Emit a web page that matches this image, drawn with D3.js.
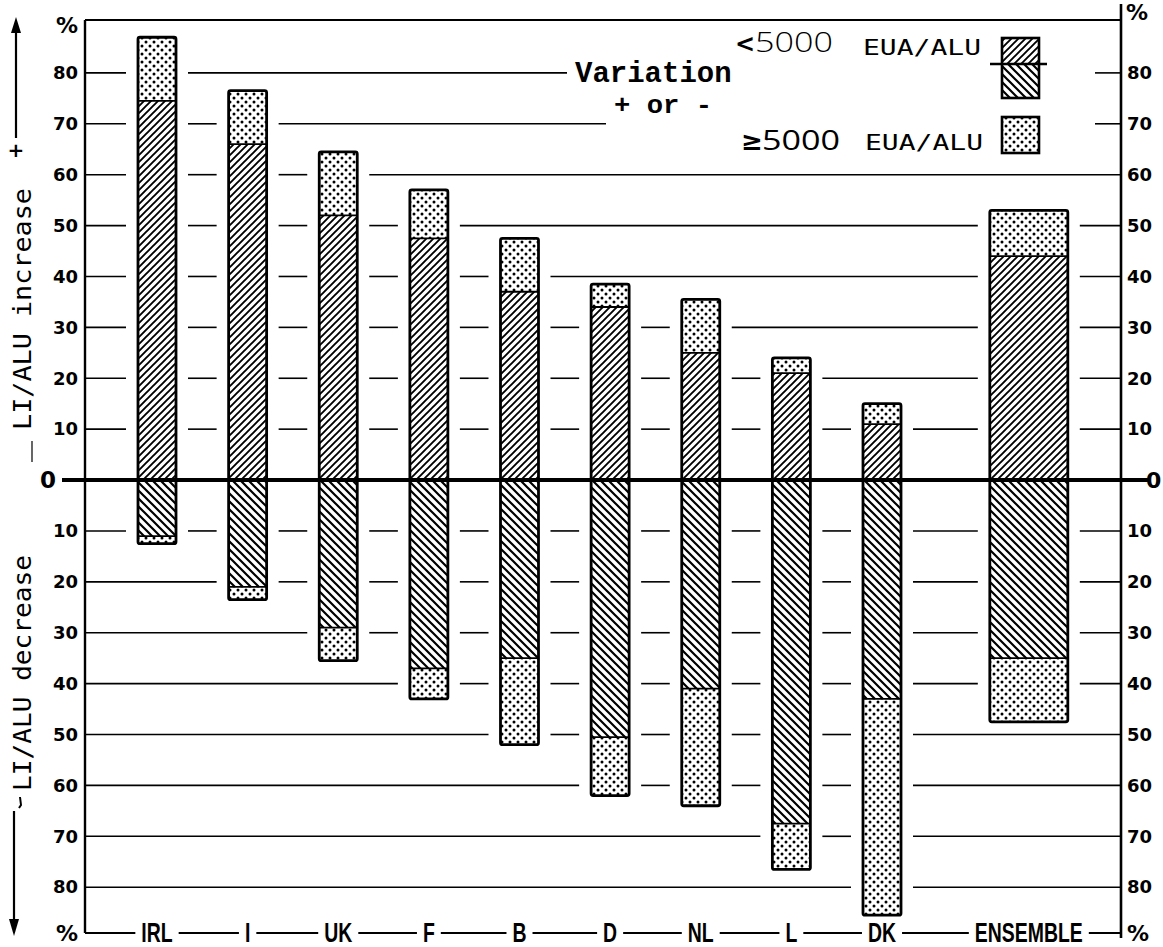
<!DOCTYPE html>
<html><head><meta charset="utf-8">
<script src="https://cdn.jsdelivr.net/npm/d3@7"></script>
<style>body{margin:0;background:#fff}svg{display:block}</style>
</head><body>
<svg id="c" width="1163" height="947"></svg>
<script>
// ---- data (values in %) ----
const categories = ["IRL","I","UK","F","B","D","NL","L","DK","ENSEMBLE"];
const incLow   = [74.5, 66, 52, 47.5, 37, 34, 25, 21, 11, 44];       // increase, < 5000 EUA/ALU (hatched)
const incTotal = [87, 76.5, 64.5, 57, 47.5, 38.5, 35.5, 24, 15, 53];  // increase incl. >= 5000 EUA/ALU (dotted)
const decLow   = [11, 21, 29, 37, 35, 50.5, 41, 67.5, 43, 35];        // decrease, < 5000 EUA/ALU (hatched)
const decTotal = [12.5, 23.5, 35.5, 43, 52, 62, 64, 76.5, 85.5, 47.5]; // decrease incl. >= 5000 EUA/ALU (dotted)
const tickValues = [10, 20, 30, 40, 50, 60, 70, 80];

// ---- layout ----
const frame = {left: 85, right: 1121, top: 20, bottom: 933};
const svg = d3.select("#c");
const y = d3.scaleLinear().domain([90, -89]).range([22, 933]);
const xi = d3.scaleLinear().domain([0, 8]).range([157, 882]);
const slot = i => (i < 9 ? i : 9.62);
const cx = i => xi(slot(i));
const bw = i => (i < 9 ? 38 : 78);

// ---- patterns ----
const defs = svg.append("defs");
function hatch(id, s, dir, sw) {
  const p = defs.append("pattern").attr("id", id).attr("patternUnits", "userSpaceOnUse")
    .attr("width", s).attr("height", s);
  p.append("rect").attr("width", s).attr("height", s).attr("fill", "#fff");
  const d = dir > 0
    ? `M${-s/2},${s/2} L${s/2},${-s/2} M0,${s} L${s},0 M${s/2},${s*1.5} L${s*1.5},${s/2}`
    : `M${-s/2},${s/2} L${s/2},${s*1.5} M0,0 L${s},${s} M${s/2},${-s/2} L${s*1.5},${s/2}`;
  p.append("path").attr("d", d).attr("stroke", "#000").attr("stroke-width", sw);
}
hatch("up", 7, 1, 1.9);
hatch("down", 8, -1, 2.2);
const dp = defs.append("pattern").attr("id", "dots").attr("patternUnits", "userSpaceOnUse")
  .attr("width", 8).attr("height", 8);
dp.append("rect").attr("width", 8).attr("height", 8).attr("fill", "#fff");
dp.append("circle").attr("cx", 2).attr("cy", 2).attr("r", 1.5).attr("fill", "#000");
dp.append("circle").attr("cx", 6).attr("cy", 6).attr("r", 1.5).attr("fill", "#000");

// ---- legend (drawn first so gridlines can avoid it) ----
const leg = svg.append("g");
const tVar = leg.append("text").attr("x", 575).attr("y", 82).text("Variation")
  .attr("font-family", "Liberation Mono").attr("font-weight", "bold").attr("font-size", 29);
const tPM = leg.append("text").attr("x", 614).attr("y", 113).text("+ or -")
  .attr("font-family", "Liberation Mono").attr("font-weight", "bold").attr("font-size", 25)
  .attr("textLength", 98).attr("lengthAdjust", "spacingAndGlyphs");
leg.append("text").attr("x", 735).attr("y", 52).text("<")
  .attr("font-family", "DejaVu Sans").attr("font-weight", "bold").attr("font-size", 24);
leg.append("text").attr("x", 755).attr("y", 52).text("5000")
  .attr("font-family", "Open Sans").attr("font-weight", 300).attr("font-size", 27)
  .attr("textLength", 78).attr("lengthAdjust", "spacingAndGlyphs");
leg.append("text").attr("x", 741).attr("y", 150).text("≥")
  .attr("font-family", "DejaVu Sans").attr("font-weight", "bold").attr("font-size", 26);
leg.append("text").attr("x", 762).attr("y", 150).text("5000")
  .attr("font-family", "Open Sans").attr("font-weight", 400).attr("font-size", 28)
  .attr("textLength", 78).attr("lengthAdjust", "spacingAndGlyphs");
[[863, 55], [865, 150]].forEach(([x0, y0]) => {
  leg.append("text").attr("x", x0).attr("y", y0).text("EUA/ALU")
    .attr("font-family", "DejaVu Sans Mono").attr("font-size", 22)
    .attr("textLength", 118).attr("lengthAdjust", "spacingAndGlyphs");
});
leg.append("rect").attr("x", 1002).attr("y", 38).attr("width", 37).attr("height", 26).attr("fill", "url(#up)");
leg.append("rect").attr("x", 1002).attr("y", 64).attr("width", 37).attr("height", 34).attr("fill", "url(#down)");
leg.append("rect").attr("x", 1002).attr("y", 38).attr("width", 37).attr("height", 60)
  .attr("fill", "none").attr("stroke", "#000").attr("stroke-width", 2.6);
leg.append("line").attr("x1", 990).attr("x2", 1047).attr("y1", 64).attr("y2", 64)
  .attr("stroke", "#000").attr("stroke-width", 2.6);
leg.append("rect").attr("x", 1002).attr("y", 117).attr("width", 37).attr("height", 36)
  .attr("fill", "url(#dots)").attr("stroke", "#000").attr("stroke-width", 2.6);

// ---- gridlines with gaps around bars ----
const grid = svg.append("g").attr("stroke", "#000").attr("stroke-width", 1.6);
const legendTexts = [tVar.node(), tPM.node()].map(n => n.getBBox());
tickValues.flatMap(v => [v, -v]).forEach(v => {
  const yy = y(v);
  const gaps = [];
  categories.forEach((c, i) => {
    const reach = v > 0 ? incTotal[i] : decTotal[i];
    if (reach > Math.abs(v)) gaps.push([cx(i) - bw(i) / 2 - 12, cx(i) + bw(i) / 2 + 12]);
  });
  const near = legendTexts.filter(b => Math.abs(b.y + b.height / 2 - yy) < 30);
  if (near.length) gaps.push([d3.min(near, b => b.x) - 8, 1095]);
  gaps.sort((a, b) => a[0] - b[0]);
  let start = frame.left;
  gaps.forEach(([a, b]) => {
    if (a > start) grid.append("line").attr("x1", start).attr("x2", a).attr("y1", yy).attr("y2", yy);
    start = Math.max(start, b);
  });
  if (start < frame.right) grid.append("line").attr("x1", start).attr("x2", frame.right).attr("y1", yy).attr("y2", yy);
});

// ---- bars ----
const bars = svg.append("g");
categories.forEach((c, i) => {
  const x0 = cx(i) - bw(i) / 2, w = bw(i);
  const seg = (top, bot, fill) => bars.append("rect").attr("x", x0).attr("y", y(top))
    .attr("width", w).attr("height", y(bot) - y(top)).attr("fill", fill);
  seg(incLow[i], 0, "url(#up)");
  seg(incTotal[i], incLow[i], "url(#dots)");
  seg(0, -decLow[i], "url(#down)");
  seg(-decLow[i], -decTotal[i], "url(#dots)");
  [incLow[i], -decLow[i]].forEach(v => bars.append("line").attr("x1", x0).attr("x2", x0 + w)
    .attr("y1", y(v)).attr("y2", y(v)).attr("stroke", "#000").attr("stroke-width", 1.8));
  bars.append("rect").attr("x", x0).attr("y", y(incTotal[i])).attr("width", w)
    .attr("height", y(-decTotal[i]) - y(incTotal[i])).attr("rx", 2)
    .attr("fill", "none").attr("stroke", "#000").attr("stroke-width", 2.8);
});

// ---- frame ----
const fr = svg.append("g").attr("stroke", "#000");
fr.append("line").attr("x1", frame.left).attr("x2", frame.left).attr("y1", frame.top).attr("y2", frame.bottom).attr("stroke-width", 2.4);
fr.append("line").attr("x1", frame.right).attr("x2", frame.right).attr("y1", 4).attr("y2", 938).attr("stroke-width", 2.6);
fr.append("line").attr("x1", frame.left).attr("x2", frame.right).attr("y1", frame.top).attr("y2", frame.top).attr("stroke-width", 1.8);
fr.append("line").attr("x1", frame.left).attr("x2", frame.right).attr("y1", frame.bottom).attr("y2", frame.bottom).attr("stroke-width", 2);
fr.append("line").attr("x1", 62).attr("x2", 1150).attr("y1", y(0)).attr("y2", y(0)).attr("stroke-width", 4);

// ---- axes ----
const tickAll = tickValues.flatMap(v => [v, -v]);
const axL = svg.append("g").attr("transform", `translate(${frame.left},0)`)
  .call(d3.axisLeft(y).tickValues(tickAll).tickFormat(d => Math.abs(d)).tickSize(0).tickPadding(7));
const axR = svg.append("g").attr("transform", `translate(${frame.right},0)`)
  .call(d3.axisRight(y).tickValues(tickAll).tickFormat(d => Math.abs(d)).tickSize(0).tickPadding(6));
[axL, axR].forEach(a => {
  a.select(".domain").remove();
  a.selectAll("text").attr("font-family", "DejaVu Sans").attr("font-weight", "bold")
    .attr("font-size", 18).attr("fill", "#000");
});
const bold = sel => sel.attr("font-family", "DejaVu Sans").attr("font-weight", "bold").attr("fill", "#000");
bold(svg.append("text").attr("x", 48).attr("y", y(0) + 8).attr("text-anchor", "middle").attr("font-size", 23).text("0"));
bold(svg.append("text").attr("x", 1146).attr("y", y(0) + 8).attr("font-size", 22).text("0"));
bold(svg.append("text").attr("x", 67).attr("y", 33).attr("text-anchor", "middle").attr("font-size", 22).text("%"));
bold(svg.append("text").attr("x", 67).attr("y", 941).attr("text-anchor", "middle").attr("font-size", 22).text("%"));
bold(svg.append("text").attr("x", 1137).attr("y", 20).attr("text-anchor", "middle").attr("font-size", 22).text("%"));
bold(svg.append("text").attr("x", 1138).attr("y", 941).attr("text-anchor", "middle").attr("font-size", 22).text("%"));

// ---- category labels on the bottom line ----
const lblScale = 0.72;
categories.forEach((c, i) => {
  const g = svg.append("g").attr("transform", `translate(${cx(i)},${frame.bottom})`);
  const t = g.append("text").attr("text-anchor", "middle").attr("y", 9)
    .attr("transform", `scale(${lblScale},1)`)
    .attr("font-family", "Liberation Sans").attr("font-weight", "bold").attr("font-size", 27).text(c);
  const bb = t.node().getBBox();
  g.insert("rect", "text").attr("x", bb.x * lblScale - 6).attr("y", -4).attr("width", bb.width * lblScale + 12)
    .attr("height", 8).attr("fill", "#fff");
});

// ---- left side titles and arrows ----
const side = svg.append("g");
side.append("text").attr("transform", "translate(31,309) rotate(-90)").attr("text-anchor", "middle")
  .attr("font-family", "DejaVu Sans Mono").attr("font-size", 24)
  .attr("textLength", 242).attr("lengthAdjust", "spacingAndGlyphs").text("LI/ALU increase");
side.append("text").attr("transform", "translate(31,673) rotate(-90)").attr("text-anchor", "middle")
  .attr("font-family", "DejaVu Sans Mono").attr("font-size", 24)
  .attr("textLength", 236).attr("lengthAdjust", "spacingAndGlyphs").text("LI/ALU decrease");
side.append("line").attr("x1", 16).attr("x2", 16).attr("y1", 138).attr("y2", 30).attr("stroke", "#000").attr("stroke-width", 2.2);
side.append("path").attr("d", "M16,17 L11,33 L21,33 Z").attr("fill", "#000");
bold(side.append("text").attr("x", 16).attr("y", 157).attr("text-anchor", "middle").attr("font-size", 20).text("+"));
side.append("line").attr("x1", 32).attr("x2", 32).attr("y1", 441).attr("y2", 462).attr("stroke", "#000").attr("stroke-width", 1.2);
side.append("line").attr("x1", 14).attr("x2", 14).attr("y1", 811).attr("y2", 922).attr("stroke", "#000").attr("stroke-width", 2.2);
side.append("path").attr("d", "M14,936 L9,919 L19,919 Z").attr("fill", "#000");
side.append("path").attr("d", "M20,797 L21,805 L19,808").attr("fill", "none").attr("stroke", "#000").attr("stroke-width", 2);
</script>
</body></html>
